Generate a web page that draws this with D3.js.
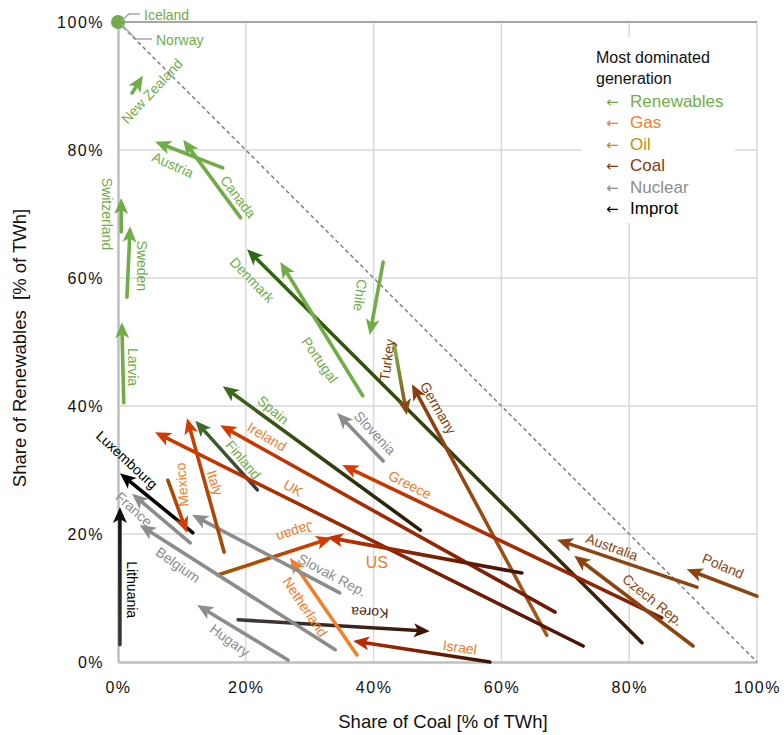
<!DOCTYPE html>
<html>
<head>
<meta charset="utf-8">
<script src="https://cdn.jsdelivr.net/npm/d3@7"></script>
<style>
  html, body { margin: 0; padding: 0; background: #fff; }
  svg { display: block; font-family: "Liberation Sans", Arial, sans-serif; }
</style>
</head>
<body>
<svg id="chart" width="784" height="735"></svg>
<script>
// Shift in electricity mix per country: share of coal vs. share of renewables (start -> end)
const countries  = ["New Zealand","Austria","Canada","Switzerland","Sweden","Larvia","Chile","Denmark","Portugal","Turkey","Germany","Slovenia","Spain","Finland","Ireland","UK","Greece","US","Japan","Korea","Israel","Netherland","Slovak Rep.","Belgium","France","Luxembourg","Lithuania","Mexico","Italy","Hugary","Australia","Czech Rep.","Poland"];
const coalStart  = [2.2, 16.4, 19.2, 0.5, 1.4, 0.9, 41.5, 82.0, 38.3, 43.2, 67.1, 41.5, 47.3, 21.8, 68.4, 72.8, 85.1, 63.2, 15.6, 18.8, 58.2, 37.4, 34.7, 34.0, 11.3, 11.7, 0.3, 7.8, 16.6, 26.6, 90.6, 90.0, 100.0];
const renewStart = [88.9, 77.2, 69.4, 67.2, 57.0, 40.5, 62.5, 3.0, 41.6, 49.7, 4.2, 31.4, 20.6, 26.9, 7.8, 2.5, 6.9, 13.9, 13.6, 6.6, 0.0, 1.1, 10.8, 1.9, 18.6, 20.2, 2.7, 28.4, 17.2, 0.3, 11.7, 2.5, 10.3];
const coalEnd    = [3.9, 5.8, 10.2, 0.5, 1.9, 0.6, 39.4, 20.2, 25.4, 45.2, 46.0, 34.3, 16.4, 12.1, 16.0, 5.8, 35.1, 32.7, 33.5, 48.8, 36.8, 26.9, 11.6, 3.4, 2.2, 0.3, 0.3, 10.8, 10.8, 12.4, 68.7, 71.4, 89.0];
const renewEnd   = [91.6, 81.3, 81.6, 72.5, 68.1, 53.1, 51.1, 64.5, 62.5, 38.6, 43.4, 38.9, 43.1, 37.7, 37.0, 35.9, 30.8, 19.5, 19.4, 4.8, 3.3, 16.3, 23.0, 21.4, 26.3, 29.5, 24.2, 20.2, 38.1, 8.9, 19.1, 16.6, 14.5];

// Countries sitting at 100% renewables / 0% coal
const fullRenewables = ["Iceland", "Norway"];

// Tick values
const xTicks = [0, 20, 40, 60, 80, 100];
const yTicks = [0, 20, 40, 60, 80, 100];

// Legend entries
const legendItems = ["Renewables", "Gas", "Oil", "Coal", "Nuclear", "Improt"];

// ---- styling ----
const C = {
  green: "#70ad47", gray: "#8c8c8c", brown: "#8c4511", orange: "#f07c2c",
  red: "#d63a00", black: "#000000"
};
// arrow colour at tail and at head
const arrowColors = {
  "New Zealand": [C.green, C.green], "Austria": [C.green, C.green], "Canada": [C.green, C.green],
  "Switzerland": [C.green, C.green], "Sweden": [C.green, C.green], "Larvia": [C.green, C.green],
  "Chile": [C.green, C.green], "Portugal": [C.green, C.green],
  "Denmark": ["#3a1a08", "#2f6a12"], "Spain": ["#2a1806", "#3a6b1a"], "Finland": ["#3c3c3c", "#3a6b2a"],
  "Turkey": ["#7cb24c", "#8a4a10"], "Germany": ["#a3581c", "#8a3e10"],
  "Ireland": ["#6a1a06", C.red], "UK": ["#4a1206", C.red], "Greece": ["#7a1e06", C.red],
  "US": ["#3a1206", "#c63200"], "Israel": ["#3a1206", "#b82c00"],
  "Japan": ["#a65000", "#d43c00"], "Mexico": ["#a04a05", "#d43c00"], "Italy": ["#a04a05", "#d43c00"],
  "Korea": ["#3a3a3a", "#3d1505"], "Netherland": ["#f0802c", "#f0802c"],
  "Slovenia": [C.gray, C.gray], "Slovak Rep.": [C.gray, C.gray], "Belgium": [C.gray, C.gray],
  "France": [C.gray, C.gray], "Hugary": [C.gray, C.gray],
  "Luxembourg": [C.black, C.black], "Lithuania": ["#3a3a3a", "#111111"],
  "Australia": [C.brown, C.brown], "Czech Rep.": [C.brown, C.brown], "Poland": [C.brown, C.brown]
};
const labelColors = {
  "New Zealand": C.green, "Austria": C.green, "Canada": C.green, "Switzerland": C.green, "Sweden": C.green,
  "Larvia": C.green, "Chile": C.green, "Denmark": C.green, "Portugal": C.green, "Spain": C.green, "Finland": C.green,
  "Turkey": "#843c0c", "Germany": "#843c0c",
  "Slovenia": C.gray, "Slovak Rep.": C.gray, "Belgium": C.gray, "France": C.gray, "Hugary": C.gray,
  "Ireland": C.orange, "UK": C.orange, "Greece": C.orange, "US": C.orange, "Japan": C.orange,
  "Netherland": C.orange, "Mexico": C.orange, "Italy": C.orange, "Israel": C.orange,
  "Korea": "#5a2208", "Luxembourg": C.black, "Lithuania": C.black,
  "Australia": C.brown, "Czech Rep.": C.brown, "Poland": C.brown
};
// label placement in chart units [coal, renewables, rotation]
const labelLayout = {
  "New Zealand": [5.3, 89.2, -47], "Austria": [8.6, 77.7, 24], "Canada": [18.8, 72.7, 53],
  "Switzerland": [-1.7, 70.0, 90], "Sweden": [3.8, 61.9, 90], "Larvia": [2.3, 46.1, 90],
  "Chile": [37.9, 57.3, 97], "Denmark": [21.0, 59.7, 46], "Portugal": [31.6, 47.2, 55],
  "Turkey": [42.1, 47.2, -82], "Germany": [50.1, 39.7, 60], "Slovenia": [40.2, 35.8, 47],
  "Spain": [24.3, 39.4, 40], "Ireland": [23.3, 35.2, 31], "Finland": [19.6, 31.6, 50],
  "UK": [27.4, 27.2, 30], "Luxembourg": [1.4, 31.6, 43], "Mexico": [10.0, 27.7, -95],
  "Italy": [15.2, 28.0, 73], "France": [2.5, 23.9, 42], "Lithuania": [2.2, 11.3, 90],
  "Belgium": [9.4, 15.2, 35], "Hugary": [17.5, 3.4, 36], "Slovak Rep.": [33.5, 13.6, 28],
  "Japan": [27.7, 20.3, 162], "US": [40.5, 15.5, 0], "Netherland": [29.3, 8.6, 56],
  "Korea": [39.4, 7.7, 183], "Israel": [53.5, 2.3, 8], "Greece": [45.7, 27.7, 27],
  "Australia": [77.3, 18.0, 20], "Czech Rep.": [83.7, 9.7, 39], "Poland": [94.7, 15.0, 23]
};
const legendColors = ["#70ad47", "#ed7d31", "#bf9000", "#843c0c", "#8c8c8c", "#000000"];

const svg = d3.select("#chart");
const x = d3.scaleLinear().domain([0, 100]).range([118, 757]);
const y = d3.scaleLinear().domain([0, 100]).range([662, 22]);

// grid
const grid = svg.append("g");
grid.selectAll("line.v").data(xTicks.slice(1)).join("line")
  .attr("x1", d => x(d)).attr("x2", d => x(d)).attr("y1", y(0)).attr("y2", y(100))
  .attr("stroke", "#d9d9d9").attr("stroke-width", 1.5);
grid.selectAll("line.h").data(yTicks.slice(1)).join("line")
  .attr("x1", x(0)).attr("x2", x(100)).attr("y1", d => y(d)).attr("y2", d => y(d))
  .attr("stroke", d => d === 100 ? "#a6a6a6" : "#d9d9d9").attr("stroke-width", d => d === 100 ? 2 : 1.5);

// axes
const fmt = d => d + "%";
const xAxis = svg.append("g").attr("transform", `translate(0,${y(0)})`)
  .call(d3.axisBottom(x).tickValues(xTicks).tickFormat(fmt).tickSize(0).tickPadding(20));
const yAxis = svg.append("g").attr("transform", `translate(${x(0)},0)`)
  .call(d3.axisLeft(y).tickValues(yTicks).tickFormat(fmt).tickSize(0).tickPadding(14));
[xAxis, yAxis].forEach(a => {
  a.select(".domain").attr("stroke", "#bfbfbf").attr("stroke-width", 2.5);
  a.selectAll("text").attr("font-family", "Liberation Sans, Arial, sans-serif")
    .attr("font-size", 16).attr("fill", "#111").style("letter-spacing", "1.5px");
});

// axis titles
svg.append("text").attr("x", 443).attr("y", 728).attr("text-anchor", "middle")
  .attr("font-size", 18.5).attr("fill", "#111").text("Share of Coal [% of TWh]");
svg.append("text").attr("transform", "translate(26,348) rotate(-90)").attr("text-anchor", "middle")
  .attr("font-size", 18.5).attr("fill", "#111").attr("xml:space", "preserve")
  .text("Share of Renewables  [% of TWh]");

// legend box (covers grid)
const lg = svg.append("g");
lg.append("rect").attr("x", 582).attr("y", 37).attr("width", 153).attr("height", 186).attr("fill", "#fff");
lg.append("text").attr("x", 596).attr("y", 63).attr("font-size", 16).attr("fill", "#111").text("Most dominated");
lg.append("text").attr("x", 596).attr("y", 84).attr("font-size", 16).attr("fill", "#111").text("generation");
legendItems.forEach((name, i) => {
  const t = lg.append("text").attr("x", 606).attr("y", 107 + i * 21.4).attr("font-size", 17).attr("fill", legendColors[i]);
  t.append("tspan").attr("font-family", "DejaVu Sans").attr("font-size", 15).text("\u2190");
  t.append("tspan").attr("x", 630).text(name);
});

// diagonal (coal + renewables = 100%)
svg.append("line").attr("x1", x(0)).attr("y1", y(100)).attr("x2", x(100)).attr("y2", y(0))
  .attr("stroke", "#808080").attr("stroke-width", 1.5).attr("stroke-dasharray", "4,3");

// arrows
const defs = svg.append("defs");
const arrows = svg.append("g");
countries.forEach((name, i) => {
  const x0 = x(coalStart[i]), y0 = y(renewStart[i]);
  const x1 = x(coalEnd[i]), y1 = y(renewEnd[i]);
  const [c0, c1] = arrowColors[name];
  const gid = "g" + i;
  const gr = defs.append("linearGradient").attr("id", gid).attr("gradientUnits", "userSpaceOnUse")
    .attr("x1", x0).attr("y1", y0).attr("x2", x1).attr("y2", y1);
  gr.append("stop").attr("offset", "0%").attr("stop-color", c0);
  gr.append("stop").attr("offset", "100%").attr("stop-color", c1);

  const dx = x1 - x0, dy = y1 - y0, len = Math.hypot(dx, dy);
  const ux = dx / len, uy = dy / len, nx = -uy, ny = ux;
  const L = 16, W = 7, N = 4;
  const bx = x1 - ux * L, by = y1 - uy * L;
  const mx = x1 - ux * (L - N), my = y1 - uy * (L - N);
  arrows.append("line").attr("x1", x0).attr("y1", y0).attr("x2", mx).attr("y2", my)
    .attr("stroke", `url(#${gid})`).attr("stroke-width", 3.6).attr("stroke-linecap", "round");
  arrows.append("path")
    .attr("d", `M${x1},${y1}L${bx + nx * W},${by + ny * W}L${mx},${my}L${bx - nx * W},${by - ny * W}Z`)
    .attr("fill", c1);
});

// countries at 100% renewables
svg.append("circle").attr("cx", x(0)).attr("cy", y(100)).attr("r", 7).attr("fill", C.green);
const lead = svg.append("g").attr("fill", "none").attr("stroke", "#a6a6a6").attr("stroke-width", 1.5);
lead.append("path").attr("d", `M${x(0) + 3},${y(100) - 1}L${x(0) + 11},${y(100) - 8}L${x(0) + 22},${y(100) - 8}`);
lead.append("path").attr("d", `M${x(0) + 3},${y(100) + 2}L${x(0) + 18},${y(100) + 17}L${x(0) + 34},${y(100) + 17}`);
svg.append("text").attr("x", x(0) + 26).attr("y", y(100) - 2).attr("font-size", 14).attr("fill", C.green).text(fullRenewables[0]);
svg.append("text").attr("x", x(0) + 38).attr("y", y(100) + 23).attr("font-size", 14).attr("fill", C.green).text(fullRenewables[1]);

// country labels
const labels = svg.append("g");
countries.forEach(name => {
  const [lx, ly, rot] = labelLayout[name];
  labels.append("text")
    .attr("transform", `translate(${x(lx)},${y(ly)}) rotate(${rot})`)
    .attr("text-anchor", "middle").attr("dominant-baseline", "central")
    .attr("font-size", name === "US" ? 16 : 14).attr("fill", labelColors[name]).text(name);
});
</script>
</body>
</html>
